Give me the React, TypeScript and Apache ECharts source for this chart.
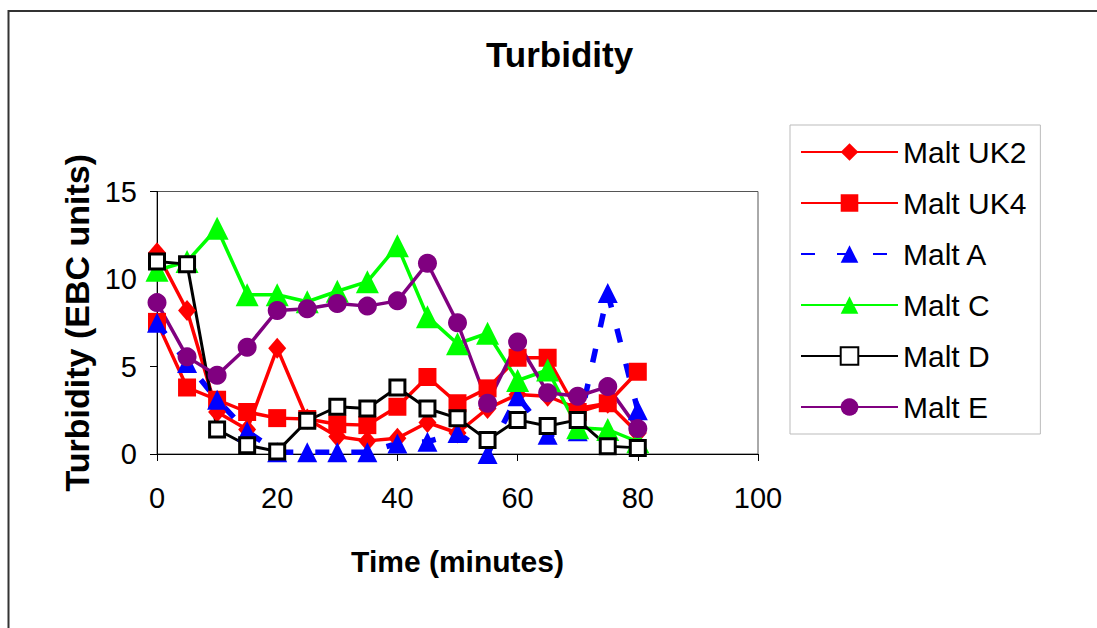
import React, { useEffect, useRef } from "react";
import * as echarts from "echarts";

const times = [0, 5, 10, 15, 20, 25, 30, 35, 40, 45, 50, 55, 60, 65, 70, 75, 80];
const maltUK2 = [11.5, 8.2, 2.4, 1.4, 6.05, 2.0, 1.0, 0.75, 0.9, 1.8, 1.2, 2.6, 3.4, 3.3, 2.6, 2.9, 1.2];
const maltUK4 = [7.55, 3.8, 3.1, 2.4, 2.05, 2.0, 1.7, 1.65, 2.7, 4.4, 2.9, 3.75, 5.5, 5.5, 2.4, 2.9, 4.7];
const maltA = [7.5, 5.2, 3.1, 1.3, 0.1, 0.1, 0.1, 0.1, 0.6, 0.7, 1.2, 0.0, 3.3, 1.1, 1.3, 9.2, 2.5];
const maltC = [10.5, 11.0, 12.9, 9.1, 9.1, 8.7, 9.3, 9.85, 11.9, 7.85, 6.3, 6.9, 4.2, 4.8, 1.5, 1.4, 0.7];
const maltD = [11.0, 10.85, 1.4, 0.5, 0.15, 1.9, 2.7, 2.6, 3.8, 2.6, 2.05, 0.8, 1.95, 1.6, 1.95, 0.45, 0.35];
const maltE = [8.65, 5.55, 4.5, 6.1, 8.2, 8.3, 8.6, 8.45, 8.75, 10.9, 7.5, 2.9, 6.4, 3.5, 3.3, 3.85, 1.45];

const seriesNames = ["Malt UK2", "Malt UK4", "Malt A", "Malt C", "Malt D", "Malt E"];
const xTicks = { min: 0, max: 100, interval: 20 };
const yTicks = { min: 0, max: 15, interval: 5 };

export default function App() {
  const ref = useRef<HTMLDivElement>(null);
  useEffect(() => {
    document.body.style.margin = "0";
    const chart = echarts.init(ref.current!, undefined, { renderer: "svg" });
    const font = "'Liberation Sans', Arial, sans-serif";
    const pts = (vals: number[]) => times.map((t, i) => [t, vals[i]]);
    const defs = [
      { data: maltUK2, line: "#FF0000", fill: "#FF0000", border: "#FF0000", bw: 0, symbol: "diamond", size: [18, 21], type: "solid", width: 3.5 },
      { data: maltUK4, line: "#FF0000", fill: "#FF0000", border: "#FF0000", bw: 0, symbol: "rect", size: 18, type: "solid", width: 3.5 },
      { data: maltA, line: "#0000FF", fill: "#0000FF", border: "#0000FF", bw: 0, symbol: "triangle", size: 20, type: [14, 22], width: 5.5 },
      { data: maltC, line: "#00FF00", fill: "#00FF00", border: "#00FF00", bw: 0, symbol: "triangle", size: 23, type: "solid", width: 3.5 },
      { data: maltD, line: "#000000", fill: "#FFFFFF", border: "#000000", bw: 3, symbol: "rect", size: 15, type: "solid", width: 3 },
      { data: maltE, line: "#800080", fill: "#800080", border: "#800080", bw: 0, symbol: "circle", size: 19, type: "solid", width: 3.5 },
    ];
    chart.setOption({
      animation: false,
      backgroundColor: "#FFFFFF",
      title: {
        text: "Turbidity",
        left: 481,
        top: 32,
        textStyle: { fontSize: 35, fontWeight: "bold", color: "#000", fontFamily: font },
      },
      graphic: [
        {
          type: "rect",
          shape: { x: 8.5, y: 11, width: 1100, height: 630 },
          style: { fill: "none", stroke: "#333", lineWidth: 2 },
          silent: true,
        },
      ],
      legend: {
        orient: "vertical",
        left: 790,
        top: 125,
        padding: [12, 14, 12, 10],
        itemWidth: 97,
        itemHeight: 22,
        itemGap: 21,
        selectedMode: false,
        backgroundColor: "#fff",
        borderColor: "#bbb",
        borderWidth: 1,
        textStyle: { fontSize: 30, color: "#000", fontFamily: font },
        data: seriesNames,
      },
      grid: {
        left: 157,
        top: 191.5,
        width: 601,
        height: 262.5,
        show: true,
        borderColor: "#555",
        borderWidth: 1,
        backgroundColor: "transparent",
      },
      xAxis: {
        type: "value",
        ...xTicks,
        axisLine: { show: true, onZero: false, lineStyle: { color: "#000", width: 1 } },
        axisTick: { show: true, length: 7, lineStyle: { color: "#000" } },
        axisLabel: { fontSize: 29, color: "#000", margin: 29, fontFamily: font },
        splitLine: { show: false },
        name: "Time (minutes)",
        nameLocation: "middle",
        nameGap: 92,
        nameTextStyle: { fontSize: 30, fontWeight: "bold", color: "#000", fontFamily: font },
      },
      yAxis: {
        type: "value",
        ...yTicks,
        axisLine: { show: true, lineStyle: { color: "#000", width: 1 } },
        axisTick: { show: true, length: 7, lineStyle: { color: "#000" } },
        axisLabel: { fontSize: 29, color: "#000", margin: 20, fontFamily: font },
        splitLine: { show: false },
        name: "Turbidity (EBC units)",
        nameLocation: "middle",
        nameGap: 59,
        nameTextStyle: { fontSize: 34, fontWeight: "bold", color: "#000", fontFamily: font },
      },
      series: defs.map((d, i) => ({
        name: seriesNames[i],
        type: "line",
        data: pts(d.data),
        symbol: d.symbol,
        symbolSize: d.size,
        showAllSymbol: true,
        clip: false,
        lineStyle: { color: d.line, width: d.width, type: d.type },
        itemStyle: { color: d.fill, borderColor: d.border, borderWidth: d.bw },
        emphasis: { disabled: true },
      })),
    });
    return () => chart.dispose();
  }, []);
  return <div ref={ref} style={{ width: 1097, height: 628 }} />;
}
